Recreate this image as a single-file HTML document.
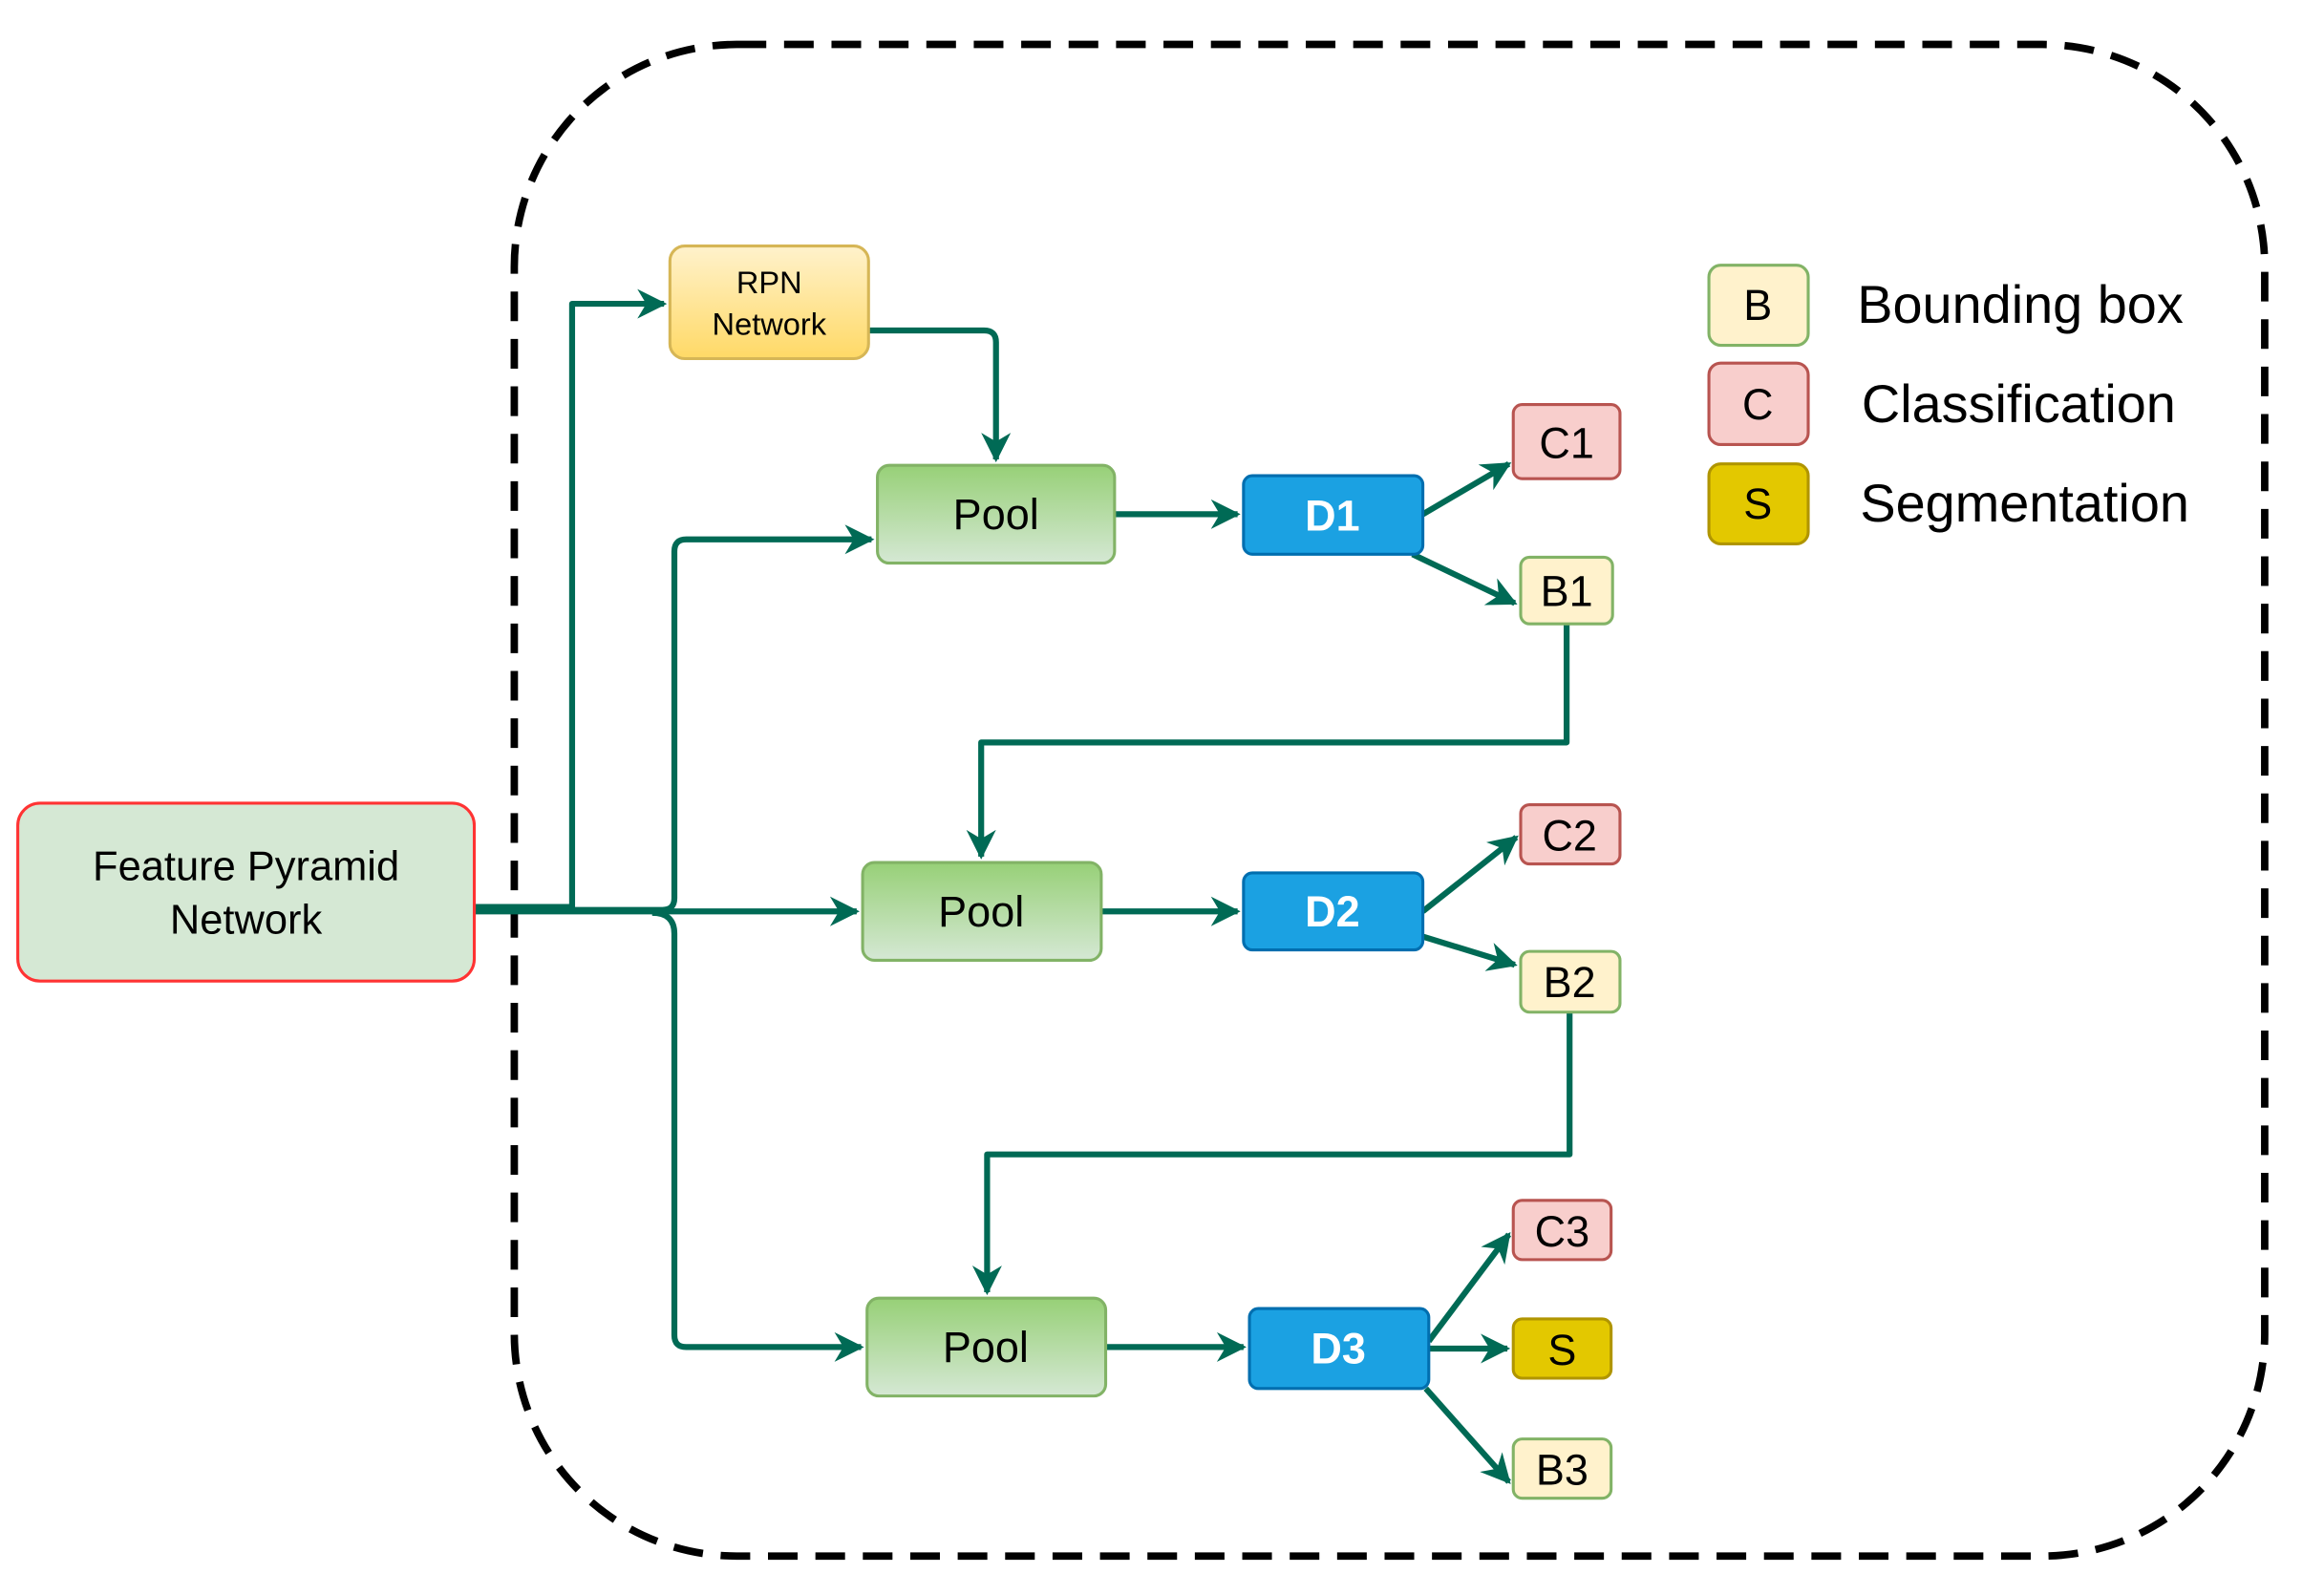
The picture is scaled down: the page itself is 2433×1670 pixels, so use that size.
<!DOCTYPE html>
<html><head><meta charset="utf-8"><style>
html,body{margin:0;padding:0;background:#fff;}
svg{display:block;}
text{font-family:"Liberation Sans",sans-serif;}
</style></head><body>
<svg width="2433" height="1670" viewBox="0 0 1568 1076.3" preserveAspectRatio="none" xmlns="http://www.w3.org/2000/svg">
<defs>
<linearGradient id="gy" x1="0" y1="0" x2="0" y2="1"><stop offset="0" stop-color="#fff2cc"/><stop offset="1" stop-color="#ffd966"/></linearGradient>
<linearGradient id="gg" x1="0" y1="0" x2="0" y2="1"><stop offset="0" stop-color="#97d077"/><stop offset="1" stop-color="#d5e8d4"/></linearGradient>
<marker id="a" viewBox="0 0 10 10" refX="9" refY="5" markerWidth="5" markerHeight="5" orient="auto" markerUnits="strokeWidth">
<path d="M0,0 L10,5 L0,10 L3,5 Z" fill="#006a55"/></marker>
</defs>
<rect x="347" y="30" width="1181" height="1020" rx="150" fill="none" stroke="#000" stroke-width="5" stroke-dasharray="20,12"/>
<g fill="none" stroke="#006a55" stroke-width="4" stroke-linejoin="round">
<path d="M320,612 H386 V205 H448" marker-end="url(#a)"/>
<path d="M320,614 H447 Q455,614 455,606 V372 Q455,364 463,364 H588" marker-end="url(#a)"/>
<path d="M320,615 H578" marker-end="url(#a)"/>
<path d="M440,616 Q455,616 455,630 V901 Q455,909 463,909 H581" marker-end="url(#a)"/>
<path d="M586,223 H664 Q672,223 672,231 V310" marker-end="url(#a)"/>
<path d="M752,347 H835" marker-end="url(#a)"/>
<path d="M960,347 L1018,313" marker-end="url(#a)"/>
<path d="M953,374 L1022,407" marker-end="url(#a)"/>
<path d="M1057,421 V501 H662 V578" marker-end="url(#a)"/>
<path d="M743,615 H835" marker-end="url(#a)"/>
<path d="M960,615 L1023,565" marker-end="url(#a)"/>
<path d="M960,632 L1022,651" marker-end="url(#a)"/>
<path d="M1059,683 V779 H666 V872" marker-end="url(#a)"/>
<path d="M746,909 H839" marker-end="url(#a)"/>
<path d="M964,905 L1018,833" marker-end="url(#a)"/>
<path d="M964,910 H1017" marker-end="url(#a)"/>
<path d="M962,937 L1018,1000" marker-end="url(#a)"/>
</g>
<rect x="12" y="542" width="308" height="120" rx="15" fill="#d5e8d4" stroke="#ff3333" stroke-width="2"/>
<text x="166" y="594" font-size="28" text-anchor="middle">Feature Pyramid</text>
<text x="166" y="630" font-size="28" text-anchor="middle">Network</text>
<rect x="452" y="166" width="134" height="76" rx="10" fill="url(#gy)" stroke="#d6b656" stroke-width="2"/>
<text x="519" y="198" font-size="21" text-anchor="middle">RPN</text>
<text x="519" y="226" font-size="21" text-anchor="middle">Network</text>
<g fill="url(#gg)" stroke="#82b366" stroke-width="2">
<rect x="592" y="314" width="160" height="66" rx="8"/>
<rect x="582" y="582" width="161" height="66" rx="8"/>
<rect x="585" y="876" width="161" height="66" rx="8"/>
</g>
<g font-size="29" text-anchor="middle">
<text x="672" y="357">Pool</text><text x="662" y="625">Pool</text><text x="665" y="919">Pool</text>
</g>
<g fill="#1ba1e2" stroke="#006eaf" stroke-width="2">
<rect x="839" y="321" width="121" height="53" rx="6"/>
<rect x="839" y="589" width="121" height="52" rx="6"/>
<rect x="843" y="883" width="121" height="54" rx="6"/>
</g>
<g font-size="29" font-weight="bold" fill="#fff" text-anchor="middle">
<text x="899" y="358">D1</text><text x="899" y="625">D2</text><text x="903" y="920">D3</text>
</g>
<g stroke-width="2">
<rect x="1021" y="273" width="72" height="50" rx="6" fill="#f8cecc" stroke="#b85450"/>
<rect x="1026" y="376" width="62" height="45" rx="6" fill="#fff2cc" stroke="#82b366"/>
<rect x="1026" y="543" width="67" height="40" rx="6" fill="#f8cecc" stroke="#b85450"/>
<rect x="1026" y="642" width="67" height="41" rx="6" fill="#fff2cc" stroke="#82b366"/>
<rect x="1021" y="810" width="66" height="40" rx="6" fill="#f8cecc" stroke="#b85450"/>
<rect x="1021" y="890" width="66" height="40" rx="6" fill="#e3c800" stroke="#b09500"/>
<rect x="1021" y="971" width="66" height="40" rx="6" fill="#fff2cc" stroke="#82b366"/>
<rect x="1153" y="179" width="67" height="54" rx="8" fill="#fff2cc" stroke="#82b366"/>
<rect x="1153" y="245" width="67" height="55" rx="8" fill="#f8cecc" stroke="#b85450"/>
<rect x="1153" y="313" width="67" height="54" rx="8" fill="#e3c800" stroke="#b09500"/>
</g>
<g font-size="29" text-anchor="middle">
<text x="1057" y="309">C1</text><text x="1057" y="409">B1</text>
<text x="1059" y="574">C2</text><text x="1059" y="673">B2</text>
<text x="1054" y="841">C3</text><text x="1054" y="921">S</text><text x="1054" y="1002">B3</text>
<text x="1186" y="216">B</text><text x="1186" y="283">C</text><text x="1186" y="350">S</text>
</g>
<g font-size="36">
<text x="1253" y="218">Bounding box</text>
<text x="1256" y="285">Classification</text>
<text x="1255" y="352">Segmentation</text>
</g>
</svg>
</body></html>
